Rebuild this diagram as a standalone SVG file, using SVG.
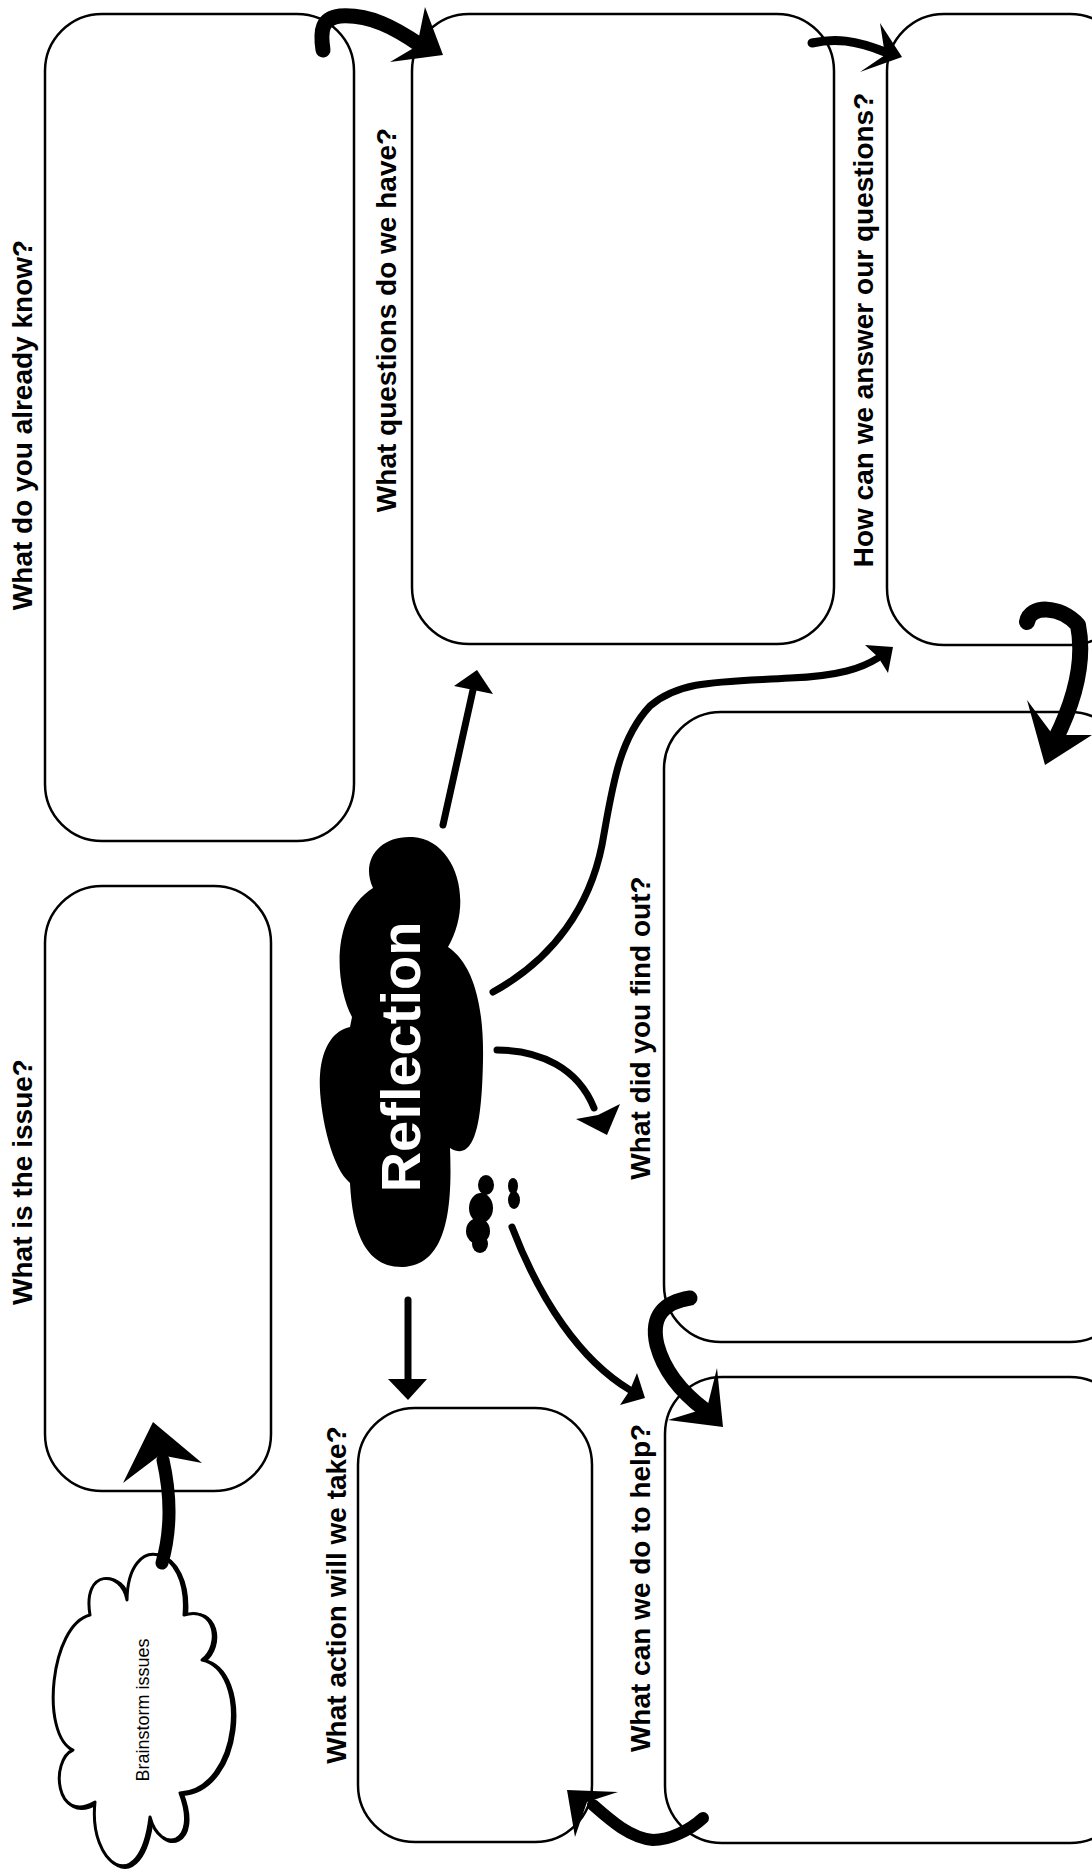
<svg xmlns="http://www.w3.org/2000/svg" width="1092" height="1872" viewBox="0 0 1092 1872">
<style>
.box{fill:#fff;stroke:#000;stroke-width:2.5}
.lbl{font-family:"Liberation Sans",Arial,sans-serif;font-weight:bold;font-size:28px;fill:#000;text-anchor:middle}
.ln{fill:none;stroke:#000;stroke-width:7;stroke-linecap:round}
.br{fill:none;stroke:#000;stroke-linecap:round;stroke-linejoin:round}
.hd{fill:#000}
</style>
<rect width="1092" height="1872" fill="#fff"/>
<g id="node-know">
<rect class="box" x="45" y="14" width="309" height="827" rx="57"/>
<text class="lbl" transform="translate(32,425) rotate(-90)">What do you already know?</text>
</g>
<g id="node-questions">
<rect class="box" x="412" y="14" width="422" height="630" rx="57"/>
<text class="lbl" transform="translate(396,320) rotate(-90)">What questions do we have?</text>
</g>
<g id="node-answer">
<rect class="box" x="887" y="14" width="240" height="631" rx="57"/>
<text class="lbl" transform="translate(873,330) rotate(-90)">How can we answer our questions?</text>
</g>
<g id="node-issue">
<rect class="box" x="45" y="886" width="226" height="605" rx="57"/>
<text class="lbl" transform="translate(32,1182) rotate(-90)">What is the issue?</text>
</g>
<g id="node-findout">
<rect class="box" x="664" y="712" width="463" height="630" rx="57"/>
<text class="lbl" transform="translate(650,1028) rotate(-90)">What did you find out?</text>
</g>
<g id="node-help">
<rect class="box" x="665" y="1377" width="462" height="466" rx="57"/>
<text class="lbl" transform="translate(650,1588) rotate(-90)">What can we do to help?</text>
</g>
<g id="node-action">
<rect class="box" x="358" y="1408" width="234" height="434" rx="57"/>
<text class="lbl" transform="translate(346,1595) rotate(-90)">What action will we take?</text>
</g>
<g id="node-brainstorm">
<path d="M127,1600 C122,1570 82,1568 90,1615 C50,1625 40,1735 73,1750 C50,1760 55,1825 95,1802 C88,1865 140,1900 150,1817 C160,1855 200,1845 180,1793 C240,1790 250,1670 202,1660 C222,1645 215,1605 184,1615 C190,1545 128,1530 127,1600 Z" fill="#000" stroke="#000" stroke-width="4" transform="translate(2,1)"/>
<path d="M127,1600 C122,1570 82,1568 90,1615 C50,1625 40,1735 73,1750 C50,1760 55,1825 95,1802 C88,1865 140,1900 150,1817 C160,1855 200,1845 180,1793 C240,1790 250,1670 202,1660 C222,1645 215,1605 184,1615 C190,1545 128,1530 127,1600 Z" fill="#fff" stroke="#000" stroke-width="3" stroke-linejoin="round"/>
<text transform="translate(149,1710) rotate(-90)" font-family="Liberation Sans, Arial, sans-serif" font-size="18" text-anchor="middle" fill="#000">Brainstorm issues</text>
</g>
<g id="node-reflection">
<path d="M373,888 C360,860 380,835 413,837 C455,840 475,900 448,947 C475,965 484,1010 483,1060 C482,1110 478,1165 450,1148 C452,1200 450,1265 403,1267 C360,1268 352,1220 350,1183 L347,1180 C328,1160 318,1100 320,1075 C322,1045 335,1030 350,1027 L352,1017 C335,985 330,915 373,888 Z" fill="#000"/>
<ellipse cx="486" cy="1185" rx="8" ry="10" fill="#000"/>
<ellipse cx="481" cy="1208" rx="12" ry="15" fill="#000"/>
<ellipse cx="478" cy="1231" rx="12" ry="13" fill="#000"/>
<ellipse cx="480" cy="1244" rx="8" ry="9" fill="#000"/>
<ellipse cx="513" cy="1186" rx="5" ry="8" fill="#000"/>
<ellipse cx="514" cy="1200" rx="6" ry="9" fill="#000"/>
<text transform="translate(420,1057) rotate(-90)" font-family="Liberation Sans, Arial, sans-serif" font-weight="bold" font-size="56" text-anchor="middle" fill="#fff">Reflection</text>
</g>
<g id="connectors">
<path class="ln" d="M443,825 L473,690"/>
<polygon class="hd" points="477,670 454,686 493,694"/>
<path class="ln" d="M493,992 C555,958 590,905 602,845 C612,790 618,740 650,706 C680,680 720,682 790,678 C840,676 862,668 878,658"/>
<polygon class="hd" points="893,647 865,645 878,657 888,673"/>
<path class="ln" d="M497,1050 C540,1050 578,1068 594,1108"/>
<polygon class="hd" points="607,1135 576,1119 598,1115 620,1104"/>
<path class="ln" d="M512,1227 C540,1300 580,1360 630,1390"/>
<polygon class="hd" points="645,1398 620,1405 630,1390 637,1373"/>
<path class="ln" d="M408,1300 L408,1382"/>
<polygon class="hd" points="408,1400 388,1379 427,1379"/>
<path class="br" stroke-width="15" d="M323,50 C320,30 322,18 340,16 C370,14 395,28 420,45"/>
<polygon class="hd" points="443,55 425,7 417,46 390,62"/>
<path class="br" stroke-width="9" d="M812,43 C835,38 855,40 885,52"/>
<polygon class="hd" points="902,57 880,23 885,55 860,72"/>
<path class="br" stroke-width="16" d="M1027,622 C1030,605 1060,605 1078,625 C1085,660 1075,700 1055,740"/>
<polygon class="hd" points="1045,765 1027,700 1053,735 1092,735"/>
<path class="br" stroke-width="15" d="M690,1298 C665,1302 650,1315 657,1345 C665,1375 685,1395 705,1410"/>
<polygon class="hd" points="723,1427 717,1368 707,1408 668,1420"/>
<path class="br" stroke-width="12" d="M703,1818 C690,1830 670,1840 653,1840 C630,1838 610,1820 593,1805"/>
<polygon class="hd" points="567,1790 618,1792 587,1802 575,1837"/>
<path class="br" stroke-width="13" d="M162,1563 C170,1535 172,1500 163,1460"/>
<polygon class="hd" points="153,1422 123,1483 160,1455 202,1463"/>
</g>
</svg>
